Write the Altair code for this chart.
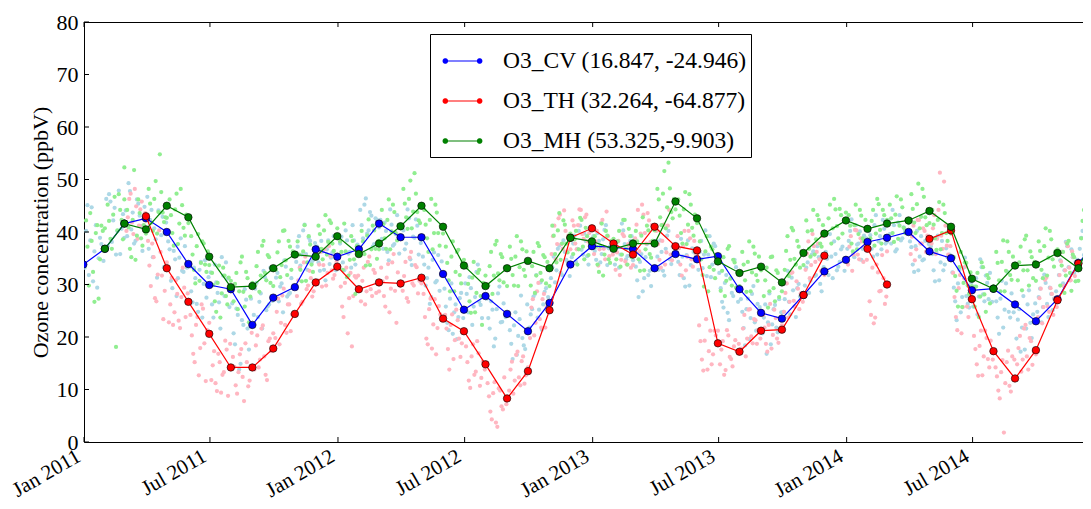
import calendar
import datetime as dt
import math

import altair as alt
import pandas as pd

# ---------------- data ----------------
SERIES = ["O3_CV (16.847, -24.946)", "O3_TH (32.264, -64.877)", "O3_MH (53.325,-9.903)"]
CODES = ["CV", "TH", "MH"]
LINE_COLORS = ["#0000ff", "#ff0000", "#008000"]
DOT_COLORS = ["#add8e6", "#ffb6c1", "#90ee90"]

# monthly means (month-end points), Dec 2010 .. Dec 2014
CV_MONTHLY = [33.8,
              36.8, 41.6, 42.6, 40.0, 33.9, 29.9, 29.1, 22.3, 27.5, 29.5, 36.7, 35.3,
              36.7, 41.6, 39.0, 39.0, 32.0, 25.2, 27.8, 24.4, 21.1, 26.5, 33.8, 37.3,
              37.1, 36.7, 33.1, 35.8, 34.8, 35.4, 29.1, 24.6, 23.5, 28.0, 32.5, 34.7,
              38.1, 38.9, 40.0, 36.3, 35.0, 28.9, 29.2, 26.2, 23.0, 27.2, 34.1, 38.6]
TH_MONTHLY = [None,
              None, None, 43.0, 33.1, 26.7, 20.6, 14.2, 14.2, 17.8, 24.4, 30.4, 33.4,
              29.1, 30.4, 30.2, 31.3, 23.5, 21.1, 14.8, 8.3, 13.5, 25.1, 38.9, 40.7,
              37.8, 35.7, 41.0, 37.3, 36.5, 18.8, 17.2, 21.2, 21.4, 28.0, 35.5, None,
              36.8, 30.0, None, 38.7, 40.3, 27.2, 17.3, 12.1, 17.5, 27.0, 34.0, None]
MH_MONTHLY = [None,
              36.8, 41.6, 40.5, 45.0, 42.8, 35.3, 29.5, 29.7, 33.1, 35.7, 35.3, 39.2,
              35.8, 37.8, 41.1, 45.0, 41.0, 33.6, 29.7, 33.1, 34.5, 33.1, 38.9, 38.2,
              36.8, 37.8, 37.8, 45.8, 42.6, 34.4, 32.2, 33.4, 30.4, 36.0, 39.7, 42.2,
              40.6, 41.6, 42.2, 44.0, 41.0, 31.1, 29.2, 33.6, 33.8, 36.0, 33.1, 41.7]

# daily samples read from the clouds, Jan 2011 .. Dec 2014 (first set: 8 per month)
CV_DAILY = [
    [33.2, 45.1, 38.4, 30.6, 41.3, 35.0, 37.7, 34.5], [46.3, 47.2, 38.1, 44.6, 40.2, 35.8, 43.4, 38.9],
    [44.1, 49.3, 40.5, 37.8, 46.2, 43.1, 36.4, 44.8], [46.7, 42.3, 35.2, 38.6, 44.1, 39.4, 33.3, 41.8],
    [38.2, 30.7, 36.4, 27.8, 35.1, 32.6, 37.3, 33.2], [33.4, 26.6, 31.2, 24.8, 34.3, 30.1, 27.5, 31.4],
    [32.3, 23.7, 30.4, 26.6, 35.2, 27.8, 31.1, 25.7], [26.4, 18.6, 24.2, 14.9, 22.3, 27.1, 17.6, 27.3],
    [24.2, 30.3, 26.7, 21.6, 31.4, 25.8, 33.2, 26.9], [27.3, 32.2, 29.6, 24.7, 33.4, 28.1, 31.2, 29.6],
    [34.3, 39.2, 35.7, 41.4, 32.8, 38.3, 34.6, 37.9], [37.2, 32.6, 36.3, 30.8, 38.4, 35.1, 39.2, 32.7],
    [35.3, 39.1, 32.7, 38.4, 36.2, 41.3, 33.8, 37.6], [44.2, 38.8, 46.4, 40.3, 43.1, 37.7, 42.3, 40.9],
    [42.3, 36.8, 40.2, 34.6, 41.4, 37.7, 43.2, 35.9], [41.2, 36.7, 44.3, 34.8, 39.1, 42.4, 35.7, 37.9],
    [35.3, 29.8, 33.2, 27.6, 36.1, 30.7, 28.8, 34.4], [29.2, 22.7, 27.3, 20.6, 26.2, 23.8, 28.4, 23.6],
    [30.2, 24.7, 29.3, 25.8, 32.4, 26.7, 23.6, 29.4], [27.3, 21.6, 25.2, 19.7, 28.3, 22.8, 26.4, 23.8],
    [24.3, 18.7, 22.2, 16.6, 23.4, 19.8, 17.7, 26.2], [21.8, 25.3, 28.2, 23.7, 30.4, 26.2, 29.3, 27.6],
    [31.2, 35.3, 32.7, 37.4, 31.8, 36.2, 34.3, 31.6], [35.2, 39.3, 36.8, 41.2, 35.7, 38.3, 33.8, 38.2],
    [39.2, 34.7, 38.3, 35.8, 40.4, 33.7, 37.2, 37.6], [33.8, 38.2, 35.7, 40.3, 34.8, 37.3, 39.2, 34.6],
    [36.2, 30.8, 34.3, 28.7, 35.2, 31.8, 29.7, 38.3], [38.3, 32.8, 36.2, 31.7, 39.3, 34.8, 37.2, 35.9],
    [37.2, 31.8, 35.3, 29.6, 38.4, 33.7, 36.2, 35.8], [32.8, 38.3, 35.7, 31.6, 39.2, 33.8, 37.3, 34.2],
    [32.2, 26.7, 30.3, 24.6, 31.2, 27.8, 33.3, 26.7], [27.2, 21.7, 25.3, 19.6, 28.2, 22.8, 26.3, 25.7],
    [20.7, 26.2, 22.8, 18.6, 25.3, 21.8, 27.2, 24.7], [24.8, 30.2, 26.7, 31.3, 25.8, 29.3, 27.7, 28.3],
    [29.8, 34.2, 30.7, 36.3, 31.8, 35.2, 28.7, 33.3], [36.2, 31.8, 35.3, 38.2, 32.7, 34.3, 37.2, 32.6],
    [36.8, 40.2, 35.7, 41.3, 37.8, 34.7, 39.3, 38.8], [40.2, 36.8, 41.3, 35.7, 39.2, 42.3, 37.8, 38.1],
    [42.2, 37.8, 41.3, 36.7, 43.2, 38.8, 40.3, 39.7], [38.2, 33.8, 37.3, 32.7, 39.2, 34.8, 36.3, 37.7],
    [37.3, 32.7, 36.2, 30.8, 38.3, 33.8, 35.2, 35.7], [32.3, 26.8, 30.2, 24.7, 33.2, 27.8, 25.6, 30.4],
    [25.8, 31.2, 27.7, 33.3, 26.8, 30.3, 32.2, 26.7], [29.2, 23.7, 27.3, 21.8, 30.2, 24.8, 28.3, 24.7],
    [19.7, 25.3, 21.8, 17.6, 26.2, 22.7, 24.3, 26.4], [24.8, 29.2, 25.7, 30.3, 23.8, 28.2, 27.3, 28.7],
    [31.8, 36.2, 32.7, 37.3, 30.8, 35.2, 34.3, 34.7], [36.8, 40.2, 35.7, 41.3, 37.8, 39.2, 40.3, 37.7],
]
TH_DAILY = [
    [], [],
    [40.2, 46.3, 41.8, 48.2, 38.7, 44.3, 41.2, 43.6], [38.3, 29.7, 35.2, 26.8, 40.3, 31.7, 28.8, 34.2],
    [22.8, 31.3, 24.7, 28.2, 21.7, 33.2, 23.8, 28.3], [24.2, 16.8, 22.3, 12.7, 26.2, 18.8, 21.3, 22.7],
    [11.8, 17.3, 9.7, 15.2, 12.8, 19.3, 8.8, 18.7], [16.2, 10.8, 13.3, 17.7, 7.8, 15.2, 11.7, 20.8],
    [13.8, 20.3, 15.7, 22.2, 12.8, 19.2, 17.3, 20.7], [19.8, 27.3, 22.7, 29.2, 20.8, 26.2, 24.3, 24.7],
    [27.8, 33.2, 26.7, 35.3, 29.8, 31.2, 28.7, 30.3], [30.8, 36.2, 33.7, 29.8, 37.3, 32.7, 31.8, 34.3],
    [33.2, 25.8, 30.3, 20.7, 32.2, 27.8, 31.3, 31.7], [26.8, 33.2, 28.7, 35.3, 27.8, 32.2, 30.3, 28.7],
    [33.2, 27.8, 31.3, 24.7, 34.2, 28.8, 32.3, 29.7], [28.8, 34.3, 26.7, 36.2, 29.8, 33.3, 30.7, 30.2],
    [28.2, 19.7, 25.3, 17.8, 27.2, 21.7, 24.3, 23.8], [24.2, 17.7, 22.3, 15.8, 25.2, 19.7, 18.8, 25.3],
    [18.2, 11.7, 16.3, 12.8, 19.2, 10.7, 15.3, 13.8], [11.2, 5.8, 9.3, 3.7, 10.2, 6.8, 12.3, 7.2],
    [9.8, 15.3, 11.7, 17.2, 10.8, 16.3, 12.7, 14.2], [19.8, 27.2, 22.7, 30.3, 21.8, 28.2, 25.7, 25.3],
    [35.8, 41.2, 37.7, 43.3, 36.8, 40.2, 39.3, 36.7], [42.2, 37.8, 41.3, 44.2, 38.7, 43.3, 39.8, 38.7],
    [35.8, 40.2, 36.7, 42.3, 34.8, 39.2, 38.3, 35.7], [32.8, 38.3, 34.7, 39.2, 33.8, 37.3, 36.2, 33.7],
    [38.8, 44.2, 39.7, 43.3, 37.8, 42.2, 41.3, 40.7], [40.2, 34.7, 38.3, 33.8, 41.2, 35.7, 37.3, 36.8],
    [39.2, 33.8, 37.3, 32.7, 40.2, 34.8, 38.3, 35.7], [22.2, 15.7, 19.3, 13.8, 21.2, 16.7, 20.3, 21.2],
    [14.8, 19.2, 13.7, 20.3, 15.8, 18.2, 17.3, 18.7], [17.8, 24.2, 19.7, 25.3, 18.8, 23.2, 21.3, 19.7],
    [24.2, 18.7, 22.3, 17.8, 25.2, 19.7, 21.3, 22.2], [24.8, 30.2, 26.7, 32.3, 25.8, 29.2, 28.3, 26.7],
    [32.8, 38.2, 33.7, 37.3, 36.2, 34.8, 39.2, 31.8], [],
    [33.8, 39.2, 35.7, 40.3, 34.8, 38.2, 37.3, 34.7], [26.8, 33.2, 23.7, 32.3, 28.8, 31.2, 27.7, 36.3],
    [], [35.8, 41.2, 36.7, 42.3, 37.8, 40.2, 39.3, 36.7],
    [37.8, 43.2, 38.7, 51.3, 36.8, 41.2, 35.7, 37.3], [32.2, 23.8, 29.3, 20.7, 31.2, 25.8, 27.3, 27.7],
    [20.2, 14.8, 18.3, 12.7, 21.2, 15.8, 19.3, 15.7], [14.2, 9.8, 13.3, 1.8, 15.2, 10.7, 16.3, 15.7],
    [14.8, 20.2, 15.7, 22.3, 13.8, 19.2, 17.3, 16.7], [23.8, 29.2, 25.7, 31.3, 24.8, 28.2, 27.3, 25.7],
    [31.8, 36.2, 32.7, 37.3, 30.8, 35.2, 34.3, 33.7], [],
]
MH_DAILY = [
    [42.2, 29.8, 38.3, 26.7, 41.3, 34.8, 40.2, 40.7], [45.2, 38.7, 43.3, 18.1, 47.2, 42.3, 46.2, 52.3],
    [44.2, 36.8, 42.3, 34.7, 46.2, 38.8, 41.3, 39.7], [48.2, 41.8, 46.3, 39.7, 54.8, 43.7, 42.8, 42.7],
    [46.2, 39.8, 44.3, 37.7, 48.2, 40.8, 43.3, 41.7], [39.2, 32.8, 37.3, 30.7, 38.2, 33.8, 36.3, 33.7],
    [32.2, 26.8, 30.3, 23.7, 33.2, 27.8, 31.3, 30.7], [26.8, 32.2, 28.7, 35.3, 25.8, 31.2, 27.7, 30.3],
    [29.8, 36.2, 31.7, 38.3, 30.8, 35.2, 33.3, 29.7], [32.8, 38.2, 33.7, 40.3, 31.8, 37.2, 36.3, 35.7],
    [38.2, 32.8, 36.3, 30.7, 39.2, 33.8, 35.3, 36.2], [41.2, 36.8, 40.3, 35.7, 42.2, 37.8, 39.3, 40.7],
    [38.2, 32.8, 36.3, 31.7, 39.2, 34.8, 37.3, 35.7], [40.2, 35.8, 39.3, 33.7, 41.2, 36.8, 38.3, 36.7],
    [44.2, 38.8, 42.3, 36.7, 45.2, 39.8, 41.3, 40.7], [48.2, 42.8, 46.3, 40.7, 51.2, 43.8, 41.7, 45.3],
    [44.2, 38.8, 42.3, 36.7, 45.2, 39.8, 41.3, 39.7], [37.2, 30.8, 35.3, 28.7, 36.2, 31.8, 34.3, 34.7],
    [33.2, 26.8, 31.3, 24.7, 32.2, 27.8, 30.3, 31.7], [29.8, 36.2, 31.7, 38.3, 30.8, 35.2, 33.3, 29.7],
    [37.2, 31.8, 35.3, 29.7, 38.2, 32.8, 36.3, 34.7], [29.8, 36.2, 31.7, 37.3, 30.8, 35.2, 34.3, 29.7],
    [41.2, 35.8, 40.3, 34.7, 42.2, 37.8, 39.3, 39.7], [35.8, 40.2, 36.7, 42.3, 34.8, 39.2, 38.3, 38.7],
    [39.2, 33.8, 37.3, 31.7, 40.2, 34.8, 38.3, 38.7], [34.8, 40.2, 35.7, 42.3, 33.8, 39.2, 38.3, 37.7],
    [40.2, 34.8, 39.3, 32.7, 41.2, 35.8, 38.3, 40.3], [48.2, 42.8, 47.3, 40.7, 53.2, 43.8, 46.3, 44.3],
    [46.2, 39.8, 44.3, 37.7, 47.2, 40.8, 43.3, 41.7], [38.2, 31.8, 36.3, 28.7, 37.2, 32.8, 35.3, 34.7],
    [28.8, 35.2, 30.7, 37.3, 29.8, 34.2, 32.3, 29.7], [36.2, 30.8, 34.3, 28.7, 37.2, 31.8, 35.3, 32.7],
    [27.8, 33.2, 28.7, 35.3, 26.8, 32.2, 30.3, 28.7], [32.8, 39.2, 34.7, 40.3, 33.8, 37.2, 36.3, 33.7],
    [42.2, 36.8, 40.3, 35.7, 43.2, 37.8, 41.3, 39.7], [39.8, 45.2, 40.7, 44.3, 38.8, 43.2, 42.3, 43.7],
    [43.2, 37.8, 41.3, 36.7, 44.2, 38.8, 42.3, 40.7], [38.8, 44.2, 39.7, 45.3, 37.8, 43.2, 42.3, 41.7],
    [45.2, 39.8, 43.3, 38.7, 46.2, 40.8, 42.3, 41.7], [47.2, 41.8, 45.3, 40.7, 48.2, 42.8, 44.3, 41.7],
    [44.2, 38.8, 42.3, 36.7, 45.2, 39.8, 41.3, 39.7], [35.2, 28.8, 33.3, 25.7, 34.2, 29.8, 32.3, 29.7],
    [25.8, 32.2, 27.7, 33.3, 24.8, 31.2, 29.3, 29.7], [36.2, 30.8, 34.3, 28.7, 38.2, 31.8, 35.3, 33.7],
    [30.8, 37.2, 32.7, 39.3, 29.8, 35.2, 34.3, 30.7], [38.2, 32.8, 37.3, 31.7, 40.2, 34.8, 36.3, 36.7],
    [29.8, 36.2, 31.7, 38.3, 28.8, 35.2, 34.3, 30.7], [38.8, 44.2, 39.7, 45.3, 37.8, 43.2, 42.3, 42.7],
]

# second set of daily samples (6 per month, days in between the first set)
CV_DAILY_B = [
    [40.2, 31.8, 44.7, 36.3, 29.4, 38.9], [37.3, 45.8, 42.2, 35.7, 47.9, 40.6],
    [39.2, 47.8, 43.7, 38.3, 45.4, 41.1], [36.8, 44.2, 40.7, 31.3, 43.6, 42.9],
    [36.7, 29.3, 34.8, 31.2, 38.8, 32.4], [28.7, 33.2, 26.3, 32.8, 23.7, 34.6],
    [26.2, 33.8, 28.4, 21.6, 31.7, 34.2], [20.7, 25.4, 13.8, 23.2, 29.1, 21.6],
    [29.2, 23.8, 28.3, 32.6, 25.1, 26.2], [31.3, 26.8, 30.2, 34.6, 27.7, 28.4],
    [37.2, 33.6, 40.3, 35.8, 38.9, 34.2], [34.2, 38.3, 32.8, 36.7, 33.9, 36.1],
    [37.8, 34.2, 40.3, 35.9, 33.2, 38.4], [41.3, 45.2, 39.7, 43.8, 37.2, 42.6],
    [38.7, 41.8, 36.2, 44.3, 37.4, 39.6], [40.3, 37.8, 42.6, 33.7, 38.9, 41.2],
    [33.8, 31.2, 26.3, 34.7, 30.4, 35.6], [25.8, 21.3, 30.2, 24.7, 19.6, 27.4],
    [28.2, 31.4, 22.3, 27.6, 33.8, 26.1], [23.6, 26.8, 18.2, 25.3, 29.6, 22.9],
    [21.3, 15.8, 24.7, 20.2, 27.9, 18.4], [24.3, 27.7, 31.8, 25.2, 21.4, 28.6],
    [33.3, 30.4, 36.8, 32.2, 38.4, 34.7], [37.8, 34.3, 40.2, 36.6, 39.7, 35.4],
    [36.4, 39.8, 34.2, 38.6, 41.3, 36.9], [36.8, 33.2, 41.6, 37.7, 35.4, 38.3],
    [33.4, 27.6, 35.8, 31.2, 37.7, 32.6], [35.3, 38.4, 32.6, 36.8, 40.2, 33.9],
    [34.3, 38.7, 31.2, 35.6, 29.8, 36.9], [36.2, 33.1, 40.3, 35.7, 31.4, 37.8],
    [29.3, 25.6, 31.8, 23.2, 28.4, 34.7], [24.8, 18.4, 27.3, 23.6, 29.7, 21.2],
    [23.7, 16.8, 28.3, 22.4, 26.1, 20.9], [27.2, 32.6, 24.3, 28.9, 23.8, 30.1],
    [33.2, 28.4, 35.7, 31.6, 37.3, 30.1], [34.9, 39.6, 31.2, 35.8, 33.4, 36.7],
    [38.3, 42.4, 35.2, 37.6, 40.1, 36.8], [39.4, 35.3, 43.2, 38.2, 36.7, 40.6],
    [39.6, 44.2, 36.3, 41.8, 38.4, 40.9], [37.1, 32.4, 40.2, 35.3, 34.6, 38.3],
    [35.8, 30.6, 39.3, 34.2, 32.7, 36.9], [29.4, 23.2, 32.8, 27.6, 35.1, 26.3],
    [29.6, 24.3, 34.8, 28.1, 31.7, 27.2], [26.8, 20.6, 30.7, 25.2, 32.4, 23.7],
    [23.3, 17.2, 27.8, 21.6, 28.9, 19.8], [27.6, 22.8, 31.9, 26.3, 29.4, 25.1],
    [34.6, 30.2, 38.1, 33.3, 36.7, 32.2], [38.9, 35.6, 41.8, 37.3, 40.6, 36.8],
]
TH_DAILY_B = [
    [], [],
    [42.8, 47.3, 39.6, 44.9, 41.2, 45.8], [33.6, 37.8, 27.4, 31.9, 36.2, 23.4],
    [26.2, 22.3, 30.8, 23.1, 27.6, 29.4], [20.3, 15.2, 23.8, 17.9, 25.4, 11.6],
    [14.6, 11.2, 16.8, 9.4, 13.3, 17.6], [14.3, 9.2, 16.7, 12.4, 18.8, 10.6],
    [18.4, 14.2, 21.6, 16.3, 11.8, 19.7], [24.8, 18.6, 27.9, 22.3, 26.2, 21.1],
    [30.8, 26.3, 34.2, 29.1, 32.6, 27.7], [33.8, 29.6, 36.7, 32.2, 35.4, 31.1],
    [29.6, 23.8, 33.2, 27.4, 18.2, 31.6], [30.7, 26.2, 34.3, 29.1, 32.8, 28.4],
    [30.6, 25.8, 33.9, 29.2, 35.8, 22.7], [31.6, 27.4, 35.1, 30.2, 33.7, 28.3],
    [23.8, 18.6, 27.3, 22.4, 16.7, 25.9], [21.6, 13.8, 24.3, 19.4, 23.2, 16.2],
    [15.2, 10.3, 18.6, 13.4, 16.9, 12.2], [8.7, 4.3, 11.4, 2.9, 9.8, 6.2],
    [13.8, 9.2, 16.6, 12.3, 15.4, 11.1], [25.6, 20.3, 28.7, 23.4, 27.2, 21.8],
    [39.2, 34.8, 42.6, 37.7, 44.1, 36.3], [41.2, 36.7, 44.3, 39.6, 42.8, 38.2],
    [38.2, 33.6, 41.7, 36.8, 43.9, 35.4], [36.1, 31.8, 39.6, 34.4, 37.7, 33.2],
    [41.4, 36.3, 45.2, 39.8, 43.6, 38.1], [37.7, 33.2, 41.4, 36.1, 44.2, 34.6],
    [36.9, 31.7, 40.2, 35.3, 38.8, 33.4], [19.2, 13.6, 23.4, 17.3, 14.8, 21.2],
    [17.6, 12.8, 21.3, 16.2, 14.4, 19.4], [21.6, 16.3, 25.2, 20.1, 23.4, 18.7],
    [21.8, 17.2, 26.3, 20.4, 23.6, 18.9], [28.4, 23.7, 32.2, 26.9, 30.6, 25.3],
    [35.9, 31.2, 39.6, 34.3, 37.8, 32.6], [],
    [37.2, 32.6, 40.4, 35.7, 38.8, 34.3], [24.2, 22.6, 33.8, 28.7, 35.6, 26.3],
    [], [39.1, 34.6, 42.3, 37.8, 40.7, 36.2],
    [40.7, 35.8, 44.2, 39.3, 49.6, 37.4], [27.6, 21.3, 31.8, 25.7, 33.4, 23.8],
    [17.7, 12.6, 21.2, 16.3, 19.8, 14.2], [12.5, 8.3, 15.6, 11.2, 17.4, 9.6],
    [17.9, 13.4, 21.6, 16.3, 19.8, 14.7], [27.4, 22.6, 30.9, 25.8, 29.3, 24.2],
    [34.4, 29.7, 37.9, 33.2, 36.3, 31.6], [],
]
MH_DAILY_B = [
    [37.2, 43.6, 32.4, 39.8, 27.3, 41.2], [42.1, 36.8, 46.7, 40.3, 44.2, 38.6],
    [40.9, 35.2, 51.8, 39.3, 43.6, 37.4], [45.4, 40.2, 49.7, 43.8, 47.6, 41.9],
    [43.2, 37.4, 47.3, 41.6, 45.1, 39.3], [35.7, 30.2, 39.6, 34.1, 37.8, 32.4],
    [29.9, 24.8, 33.6, 28.3, 31.7, 26.2], [30.1, 25.3, 34.2, 28.6, 32.4, 22.8],
    [33.5, 28.6, 37.4, 32.2, 35.6, 30.3], [36.1, 31.4, 40.2, 34.6, 38.3, 32.8],
    [35.7, 30.6, 41.3, 34.2, 37.6, 32.4], [39.6, 34.8, 43.2, 38.1, 41.7, 36.4],
    [36.2, 41.6, 31.4, 34.7, 38.3, 28.2], [38.2, 33.6, 42.4, 36.7, 40.3, 34.9],
    [41.5, 36.8, 46.2, 40.1, 43.8, 38.4], [45.4, 40.6, 49.8, 43.9, 47.3, 42.2],
    [41.4, 36.2, 46.3, 39.8, 43.7, 37.4], [34.1, 28.7, 38.2, 32.4, 36.6, 30.2],
    [30.1, 24.6, 34.3, 28.4, 32.8, 22.3], [33.5, 28.2, 37.6, 32.1, 35.8, 30.4],
    [34.9, 29.8, 39.2, 33.3, 36.7, 31.6], [33.5, 28.4, 37.9, 32.2, 35.6, 30.2],
    [39.3, 34.2, 43.6, 37.8, 41.4, 36.1], [38.6, 33.8, 42.7, 37.2, 40.8, 35.6],
    [37.2, 32.4, 41.6, 35.7, 39.3, 34.1], [38.2, 33.4, 42.3, 36.8, 40.6, 35.2],
    [38.2, 32.6, 42.8, 36.7, 40.3, 35.1], [46.2, 41.3, 51.6, 44.7, 48.3, 42.6],
    [43.1, 37.8, 47.6, 41.4, 45.2, 39.3], [34.8, 29.6, 39.2, 33.3, 36.7, 31.2],
    [32.6, 27.8, 36.8, 31.1, 34.7, 29.4], [33.8, 28.6, 38.2, 32.3, 35.9, 30.7],
    [30.8, 25.6, 35.2, 29.3, 32.7, 27.6], [36.4, 31.6, 40.8, 34.9, 38.3, 33.2],
    [40.1, 35.3, 44.2, 38.6, 42.3, 37.2], [42.6, 37.8, 46.3, 41.1, 44.4, 39.7],
    [41.2, 36.3, 45.2, 39.6, 43.1, 38.2], [42.1, 37.4, 46.3, 40.4, 44.2, 39.2],
    [42.6, 38.1, 46.8, 41.2, 44.7, 39.8], [44.4, 39.8, 49.2, 42.9, 46.7, 41.3],
    [41.4, 36.6, 45.7, 39.8, 43.6, 38.3], [31.6, 25.8, 36.2, 30.3, 34.1, 28.2],
    [29.6, 23.8, 34.2, 28.1, 31.8, 26.4], [34.1, 28.7, 38.4, 32.6, 36.2, 30.9],
    [34.2, 28.9, 38.6, 32.7, 36.3, 31.2], [36.4, 31.2, 40.7, 35.1, 38.6, 33.4],
    [33.6, 28.4, 37.8, 32.2, 35.7, 30.6], [42.1, 37.3, 46.4, 40.6, 44.2, 39.1],
]

X_TICKS = [(2011, 1), (2011, 7), (2012, 1), (2012, 7), (2013, 1), (2013, 7), (2014, 1), (2014, 7)]
Y_TICKS = [0, 10, 20, 30, 40, 50, 60, 70, 80]
Y_TITLE = "Ozone concentration (ppbV)"

# ---------------- build tables ----------------
MONTHS = [(2010, 12)] + [(y, m) for y in range(2011, 2015) for m in range(1, 13)]
DAY_OFFSETS = [2, 6, 10, 14, 18, 22, 26, 29]
DAY_OFFSETS_B = [4, 8, 12, 16, 20, 24]


def iso(d):
    return d.strftime("%Y-%m-%dT00:00:00")


line_rows = []
for si, (name, vals) in enumerate(zip(SERIES, [CV_MONTHLY, TH_MONTHLY, MH_MONTHLY])):
    seg, gap = 0, True
    for (y, m), v in zip(MONTHS, vals):
        if v is None:
            gap = True
            continue
        if gap:
            seg += 1
            gap = False
        line_rows.append(dict(date=iso(dt.date(y, m, calendar.monthrange(y, m)[1])),
                              value=v, series=name, code=CODES[si], seg=f"{si}-{seg}"))
lines_df = pd.DataFrame(line_rows)

dot_rows = []
for si, (set_a, set_b) in enumerate([(CV_DAILY, CV_DAILY_B), (TH_DAILY, TH_DAILY_B),
                                     (MH_DAILY, MH_DAILY_B)]):
    for (y, m), va, vb in zip(MONTHS[1:], set_a, set_b):
        nd = calendar.monthrange(y, m)[1]
        for offsets, vals in ((DAY_OFFSETS, va), (DAY_OFFSETS_B, vb)):
            for k, v in enumerate(vals):
                dot_rows.append(dict(date=iso(dt.date(y, m, min(offsets[k] + si, nd))),
                                     value=v, code=CODES[si], order=si))
dots_df = pd.DataFrame(dot_rows).sort_values("order", kind="stable")

xt_df = pd.DataFrame({"tick": [iso(dt.date(y, m, 1)) for y, m in X_TICKS]})
yt_df = pd.DataFrame({"yt": Y_TICKS})

# ---------------- styling ----------------
W, H = 999, 420
FONT = "Liberation Serif"

x_scale = alt.Scale(domain=[alt.DateTime(year=2011, month=1, date=1),
                            alt.DateTime(year=2014, month=12, date=6, hours=16)])
y_scale = alt.Scale(domain=[0, 80], nice=False, zero=False)

x_axis = alt.Axis(values=[alt.DateTime(year=y, month=m, date=1) for y, m in X_TICKS],
                  format="%b %Y", title=None, grid=False, ticks=False, tickSize=0,
                  domainColor="black", domainWidth=1,
                  labelFont=FONT, labelFontSize=21, labelColor="black",
                  labelAngle=330, labelAlign="right", labelBaseline="top",
                  labelPadding=3, labelOffset=-11, labelFlush=False,
                  labelOverlap=False, labelBound=False)
y_axis = alt.Axis(values=Y_TICKS, title=Y_TITLE, grid=False, ticks=False, tickSize=0,
                  domainColor="black", domainWidth=1,
                  labelFont=FONT, labelFontSize=22, labelColor="black", labelPadding=6,
                  titleFont=FONT, titleFontSize=22, titleFontWeight="normal",
                  titleColor="black", titlePadding=4)


def X(f):
    return alt.X(f"{f}:T", scale=x_scale, axis=x_axis)


def Y(f):
    return alt.Y(f"{f}:Q", scale=y_scale, axis=y_axis)


# legend symbol: a line with a dot at each end (dots built from concentric rings)
U = 12.0  # pixel size of one path unit (sqrt(symbolSize)/2)
C1, C2 = -0.14, 2.72


def ring(cx, r_px, n=14):
    r = r_px / U
    pts = [(cx + r * math.cos(2 * math.pi * i / n), r * math.sin(2 * math.pi * i / n)) for i in range(n)]
    return "M" + "L".join(f"{px:.3f},{py:.3f}" for px, py in pts) + "Z"


SYMBOL = f"M{C1},0L{C2},0" + "".join(ring(c, r) for c in (C1, C2) for r in (2.2, 1.2, 0.4))

legend = alt.Legend(title=" ", titleFontSize=8, titlePadding=2, orient="none",
                    legendX=346, legendY=12, symbolType=SYMBOL, symbolSize=576,
                    symbolStrokeWidth=1.2, labelFont=FONT, labelFontSize=23.5,
                    labelColor="black", labelOffset=43, labelLimit=600, rowPadding=15,
                    padding=4, strokeColor="black", fillColor="white")

stroke_enc = alt.Stroke("series:N", scale=alt.Scale(domain=SERIES, range=LINE_COLORS), legend=legend)
fill_enc = alt.Fill("code:N", scale=alt.Scale(domain=CODES, range=LINE_COLORS), legend=None)

dots = alt.Chart(dots_df).mark_circle(size=18, opacity=1, clip=True).encode(
    x=X("date"), y=Y("value"),
    color=alt.Color("code:N", scale=alt.Scale(domain=CODES, range=DOT_COLORS), legend=None),
)

layers = [dots]
for name in SERIES:
    base = alt.Chart(lines_df).transform_filter(alt.datum.series == name)
    layers.append(base.mark_line(strokeWidth=1.2, clip=True).encode(
        x=X("date"), y=Y("value"), stroke=stroke_enc, detail="seg:N"))
    layers.append(base.mark_point(filled=True, size=56, stroke="black", strokeWidth=0.6,
                                  opacity=1, clip=True).encode(
        x=X("date"), y=Y("value"), fill=fill_enc))

tick_style = dict(color="black", strokeWidth=1)
layers.append(alt.Chart(xt_df).mark_rule(**tick_style).encode(
    x=X("tick"), y=alt.value(H), y2=alt.value(H - 5)))
layers.append(alt.Chart(xt_df).mark_rule(**tick_style).encode(
    x=X("tick"), y=alt.value(0), y2=alt.value(5)))
layers.append(alt.Chart(yt_df).mark_rule(**tick_style).encode(
    y=Y("yt"), x=alt.value(0), x2=alt.value(5)))
layers.append(alt.Chart(pd.DataFrame({"b": [0]})).mark_rule(**tick_style).encode(
    x=alt.value(0), x2=alt.value(W), y=alt.value(0.5)))

chart = alt.layer(*layers).properties(
    width=W, height=H,
    padding={"left": 76, "top": 14, "right": 0, "bottom": 59},
    autosize=alt.AutoSizeParams(type="none"),
    background="white",
).configure_view(stroke=None)

chart.save("out.html", embed_options={"renderer": "svg", "actions": False})
